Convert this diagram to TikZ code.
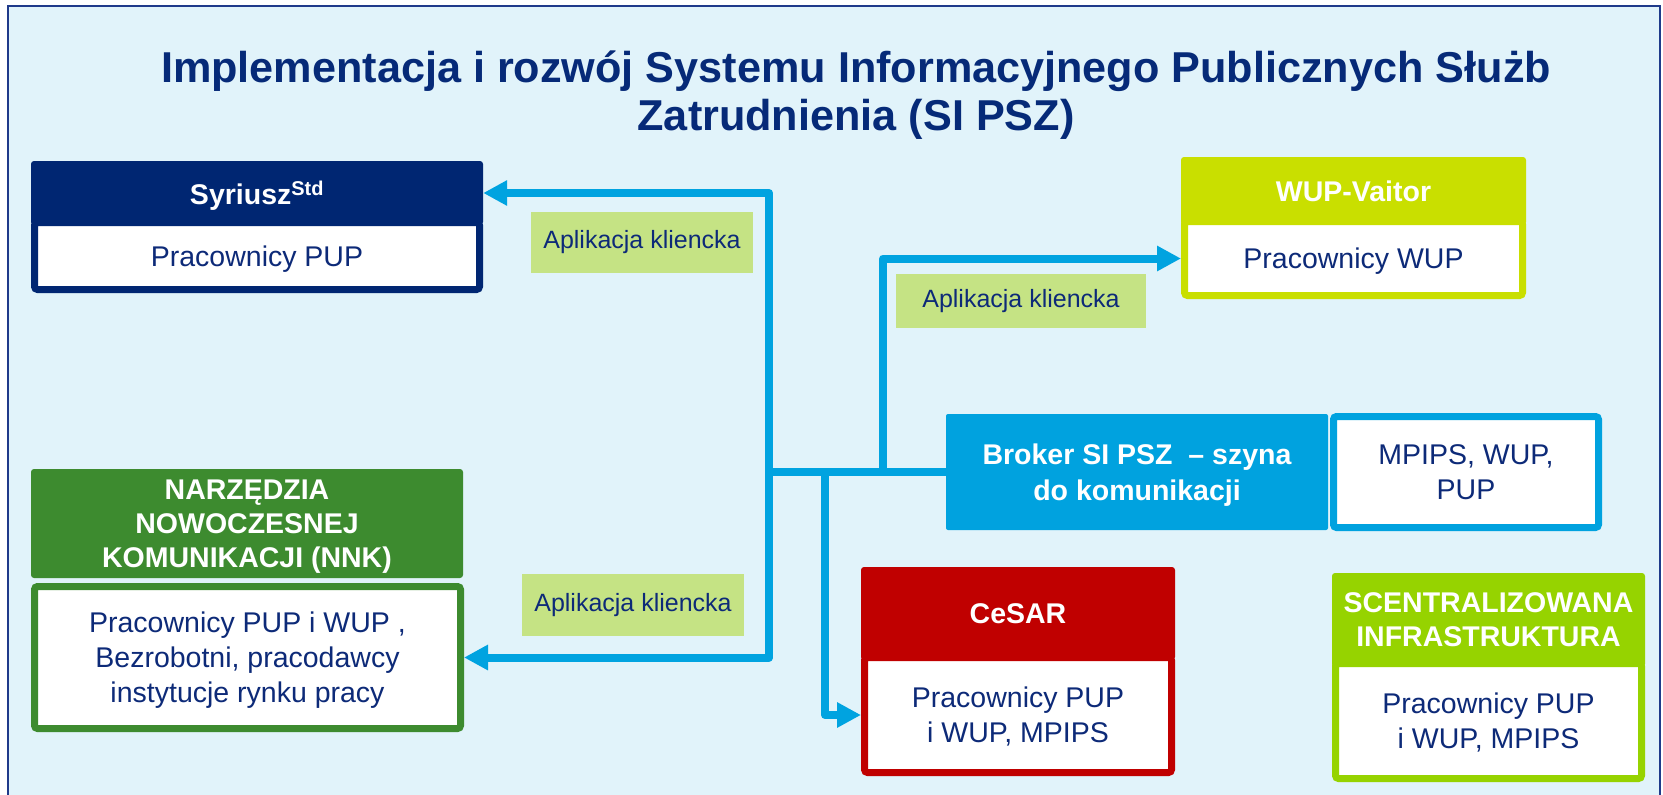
\documentclass[tikz,border=0pt]{standalone}
\usepackage{fontspec}
\setmainfont{Liberation Sans}
\usetikzlibrary{arrows.meta}
\definecolor{bgc}{HTML}{E1F3FA}
\definecolor{framec}{HTML}{1F3A8A}
\definecolor{navy}{HTML}{002672}
\definecolor{titlec}{HTML}{062A78}
\definecolor{txt}{HTML}{0D2A78}
\definecolor{nnkg}{HTML}{3D8B2F}
\definecolor{lime}{HTML}{C9DF00}
\definecolor{brk}{HTML}{00A2DF}
\definecolor{conc}{HTML}{00A3E0}
\definecolor{cesr}{HTML}{C00000}
\definecolor{scg}{HTML}{96D300}
\definecolor{lblg}{HTML}{C5E384}
\begin{document}
\begin{tikzpicture}[x=1pt,y=-1pt,
 hdr/.style={rectangle, rounded corners=3pt, inner sep=0pt, text depth=0pt, text=white, font=\fontsize{28.5}{34}\selectfont\bfseries, align=center},
 bodyb/.style={rectangle, rounded corners=3pt, draw=#1, line width=7pt, fill=white, inner sep=0pt, text depth=0pt, text=txt, font=\fontsize{28.5}{35}\selectfont, align=center},
 lbl/.style={rectangle, fill=lblg, inner sep=0pt, text=txt, font=\fontsize{25}{30}\selectfont},
 conn/.style={draw=conc, line width=8pt, line join=round},
 arrowend/.style={-{Triangle[length=24pt,width=24pt]}},
 ttl/.style={anchor=base, inner sep=0pt, text=titlec, font=\fontsize{43.2}{48}\selectfont\bfseries},
]
\useasboundingbox (0,0) rectangle (1663,795);
\fill[bgc] (8,6) rectangle (1660,795);
\draw[framec, line width=2pt] (8,795) -- (8,6) -- (1660,6) -- (1660,795);

\node[ttl] (title1) at (856,82) {Implementacja i rozwój Systemu Informacyjnego Publicznych Służb};
\node[ttl] (title2) at (856,130) {Zatrudnienia (SI PSZ)};

% Syriusz
\node[hdr, fill=navy, minimum width=452pt, minimum height=64pt] (syrh) at (257,193) {Syriusz\textsuperscript{Std}};
\node[bodyb=navy, minimum width=445pt, minimum height=67pt] (syrb) at (257,256) {Pracownicy PUP};

% WUP-Vaitor
\node[hdr, fill=lime, minimum width=345pt, minimum height=68pt] (wuph) at (1353.5,191) {WUP-Vaitor};
\node[bodyb=lime, minimum width=338pt, minimum height=74pt] (wupb) at (1353.5,258.5) {Pracownicy WUP};

% Broker
\node[hdr, fill=brk, minimum width=382pt, minimum height=116pt, rounded corners=2pt, font=\fontsize{28.5}{36}\selectfont\bfseries] (broker) at (1137,472) {Broker SI PSZ~ – szyna\\do komunikacji};
\node[bodyb=brk, minimum width=265pt, minimum height=111pt] (mpips) at (1466,472) {MPIPS, WUP,\\PUP};

% NNK
\node[hdr, fill=nnkg, minimum width=432pt, minimum height=109pt] (nnkh) at (247,523.5) {NARZĘDZIA\\NOWOCZESNEJ\\KOMUNIKACJI (NNK)};
\node[bodyb=nnkg, minimum width=426pt, minimum height=142pt] (nnkb) at (247.5,657.5) {Pracownicy PUP i WUP ,\\Bezrobotni, pracodawcy\\instytucje rynku pracy};

% CeSAR
\node[hdr, fill=cesr, minimum width=314pt, minimum height=93pt] (cesh) at (1018,613.5) {CeSAR};
\node[bodyb=cesr, minimum width=307pt, minimum height=115pt] (cesb) at (1018,715) {Pracownicy PUP\\i WUP, MPIPS};

% Scentralizowana
\node[hdr, fill=scg, minimum width=313pt, minimum height=94pt] (scenh) at (1488.5,620) {SCENTRALIZOWANA\\INFRASTRUKTURA};
\node[bodyb=scg, minimum width=306pt, minimum height=115pt] (scenb) at (1488.5,721) {Pracownicy PUP\\i WUP, MPIPS};

% labels
\node[lbl, minimum width=222pt, minimum height=61pt] (lbl1) at (642,242.5) {Aplikacja kliencka};
\node[lbl, minimum width=250pt, minimum height=54pt] (lbl2) at (1021,301) {Aplikacja kliencka};
\node[lbl, minimum width=222pt, minimum height=62pt] (lbl3) at (633,605) {Aplikacja kliencka};

% connectors
\coordinate (j1) at (769,472);
\coordinate (j2) at (825,472);
\coordinate (j3) at (883,472);
\draw[conn] (broker.west) -- (j1);
\draw[conn, arrowend] (j1) |- (syrh.east);
\draw[conn, arrowend] (j1) |- (nnkb.east);
\draw[conn, arrowend] (j2) |- (cesb.west);
\draw[conn, arrowend] (j3) |- (wupb.west);
\end{tikzpicture}
\end{document}
